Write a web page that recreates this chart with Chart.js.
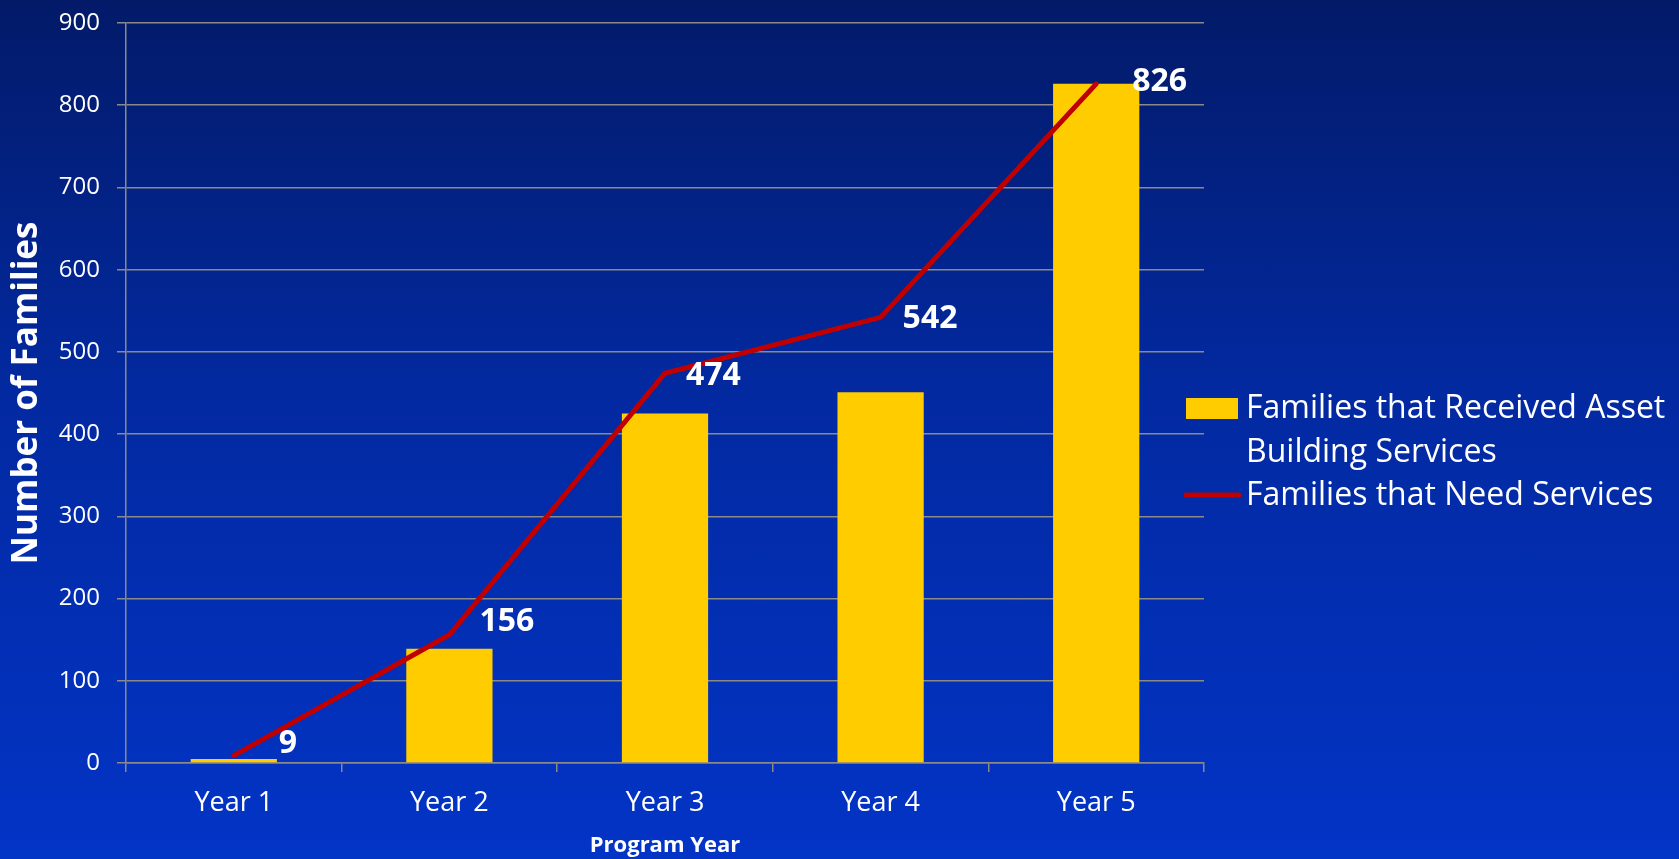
<!DOCTYPE html>
<html>
<head>
<meta charset="utf-8">
<script src="https://cdn.jsdelivr.net/npm/chart.js@4.4.1/dist/chart.umd.min.js"></script>
<style>
  html, body { margin:0; padding:0; }
  body {
    width:1679px; height:859px; overflow:hidden;
    background: linear-gradient(to bottom, #021a68 0%, #0229a0 45%, #0234c6 100%);
  }
</style>
</head>
<body>
<canvas id="mychart" width="1679" height="859"></canvas>
<script>
// data
const years = ['Year 1', 'Year 2', 'Year 3', 'Year 4', 'Year 5']
const receivedServices = [5, 139, 425, 451, 826]
const needServices = [9, 156, 474, 542, 826]
const yTicks = [0, 100, 200, 300, 400, 500, 600, 700, 800, 900]

const barLabel = 'Families that Received Asset Building Services'
const lineLabel = 'Families that Need Services'

// where the value labels sit next to each line point (px)
const labelShift = [[45, -12], [30, -13], [21, 3], [22, 2], [36, -2]]

const gridGray = '#8a8a8a'
const font = '"Open Sans", "Noto Sans", sans-serif'

// white bold numbers on the red line
const valueLabels = {
	id: 'valueLabels',
	afterDatasetsDraw(chart) {
		const ctx = chart.ctx
		const meta = chart.getDatasetMeta(1)
		ctx.save()
		ctx.fillStyle = '#ffffff'
		ctx.font = 'bold 32px ' + font
		ctx.textAlign = 'left'
		ctx.textBaseline = 'middle'
		meta.data.forEach(function(pt, i) {
			ctx.fillText(String(needServices[i]), pt.x + labelShift[i][0], pt.y + labelShift[i][1])
		})
		ctx.restore()
	}
}

// legend on the right, text wraps like the original
const sideLegend = {
	id: 'sideLegend',
	afterDraw(chart) {
		const ctx = chart.ctx
		const x = chart.chartArea.right - 18
		ctx.save()
		ctx.fillStyle = '#ffcc00'
		ctx.fillRect(x, 398, 52, 21)
		ctx.strokeStyle = '#c00000'
		ctx.lineWidth = 5
		ctx.lineCap = 'round'
		ctx.beginPath()
		ctx.moveTo(x, 495)
		ctx.lineTo(x + 53, 495)
		ctx.stroke()
		ctx.fillStyle = '#ffffff'
		ctx.font = '32px ' + font
		ctx.textAlign = 'left'
		ctx.textBaseline = 'middle'
		ctx.fillText('Families that Received Asset', x + 60, 409)
		ctx.fillText('Building Services', x + 60, 453)
		ctx.fillText(lineLabel, x + 60, 496)
		ctx.restore()
	}
}

const canvasforchart = document.getElementById('mychart')
new Chart(canvasforchart, {
	data: {
		labels: years,
		datasets: [{
			type: 'bar',
			label: barLabel,
			data: receivedServices,
			backgroundColor: '#ffcc00',
			barPercentage: 0.4,
			categoryPercentage: 1,
			order: 2
		}, {
			type: 'line',
			label: lineLabel,
			data: needServices,
			borderColor: '#c00000',
			borderWidth: 5,
			borderCapStyle: 'round',
			pointRadius: 0,
			tension: 0,
			order: 1
		}]
	},
	options: {
		responsive: false,
		animation: false,
		devicePixelRatio: 1,
		layout: {
			padding: { left: 0, top: 23, right: 475, bottom: 0 }
		},
		plugins: {
			legend: { display: false },
			tooltip: { enabled: false }
		},
		scales: {
			x: {
				grid: {
					offset: true,
					drawOnChartArea: false,
					drawTicks: true,
					tickLength: 9,
					color: gridGray,
					lineWidth: 1.5
				},
				border: { color: gridGray, width: 1.5 },
				ticks: {
					color: '#ffffff',
					padding: 15,
					font: { family: font, size: 27 }
				},
				title: {
					display: true,
					text: 'Program Year',
					color: '#ffffff',
					padding: { top: 0, bottom: 0 },
					font: { family: font, size: 22, weight: 'bold' }
				},
				afterFit(scale) {
					scale.height = 96
				}
			},
			y: {
				min: 0,
				max: 900,
				afterBuildTicks(scale) {
					scale.ticks = yTicks.map(function(v) { return { value: v } })
				},
				grid: {
					color: gridGray,
					lineWidth: 1.5,
					tickLength: 9
				},
				border: { color: gridGray, width: 1.5 },
				ticks: {
					color: '#ffffff',
					padding: 17,
					font: { family: font, size: 24 }
				},
				title: {
					display: true,
					text: 'Number of Families',
					color: '#ffffff',
					padding: { top: 6, bottom: 0 },
					font: { family: font, size: 35, weight: 'bold' }
				},
				afterFit(scale) {
					scale.width = 126
					scale.paddingTop = 0
					scale.paddingBottom = 0
				}
			}
		}
	},
	plugins: [valueLabels, sideLegend]
})
</script>
</body>
</html>
